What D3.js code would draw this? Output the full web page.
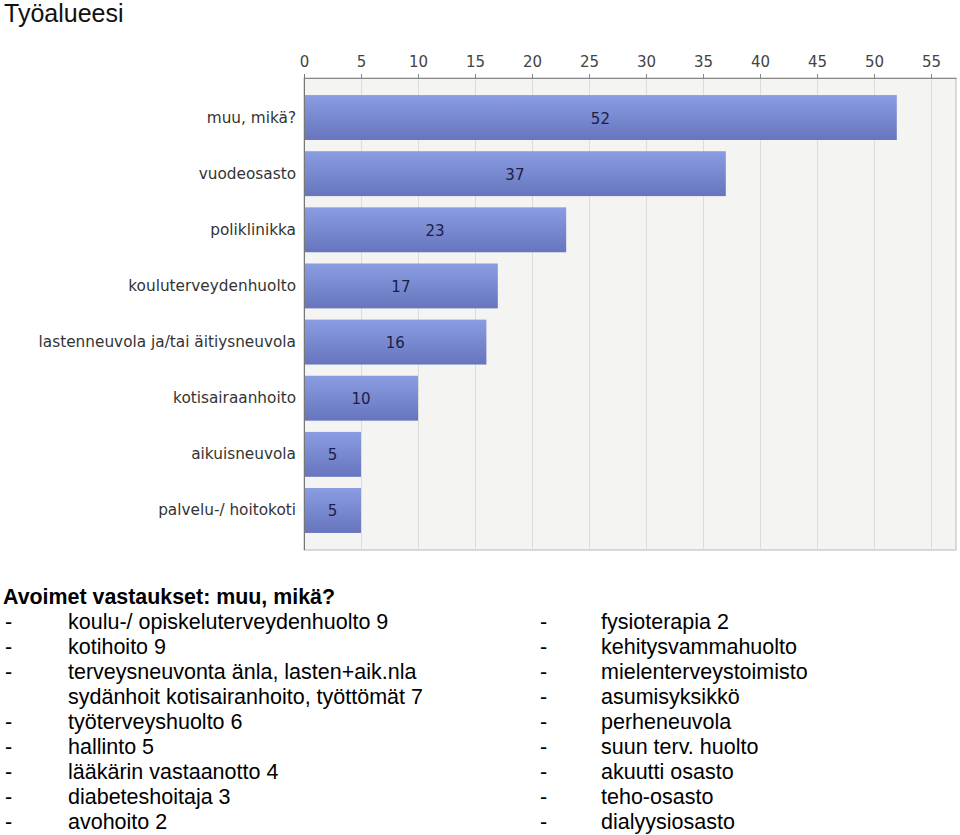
<!DOCTYPE html>
<html><head><meta charset="utf-8">
<script src="https://cdn.jsdelivr.net/npm/d3@7"></script>
<style>body{margin:0;background:#fff;} svg{display:block;}</style>
</head><body>
<script>
const categories = ["muu, mikä?","vuodeosasto","poliklinikka","kouluterveydenhuolto","lastenneuvola ja/tai äitiysneuvola","kotisairaanhoito","aikuisneuvola","palvelu-/ hoitokoti"];
const values = [52,37,23,17,16,10,5,5];
const tickValues = [0,5,10,15,20,25,30,35,40,45,50,55];
const title = "Työalueesi";
const openTitle = "Avoimet vastaukset: muu, mikä?";
const leftLines = [
  ["-","koulu-/ opiskeluterveydenhuolto 9"],
  ["-","kotihoito 9"],
  ["-","terveysneuvonta änla, lasten+aik.nla"],
  ["","sydänhoit kotisairanhoito, työttömät 7"],
  ["-","työterveyshuolto 6"],
  ["-","hallinto 5"],
  ["-","lääkärin vastaanotto 4"],
  ["-","diabeteshoitaja 3"],
  ["-","avohoito 2"]
];
const rightLines = [
  ["-","fysioterapia 2"],
  ["-","kehitysvammahuolto"],
  ["-","mielenterveystoimisto"],
  ["-","asumisyksikkö"],
  ["-","perheneuvola"],
  ["-","suun terv. huolto"],
  ["-","akuutti osasto"],
  ["-","teho-osasto"],
  ["-","dialyysiosasto"]
];

(function(){
const W = 960, H = 835;
const svg = d3.select("body").append("svg").attr("width", W).attr("height", H);
const defs = svg.append("defs");
const g1 = defs.append("linearGradient").attr("id","barGrad").attr("x1",0).attr("y1",0).attr("x2",0).attr("y2",1);
g1.append("stop").attr("offset","0%").attr("stop-color","#8b9de2");
g1.append("stop").attr("offset","100%").attr("stop-color","#6675bd");

svg.append("text").attr("x",4).attr("y",22).attr("font-family","Liberation Sans, Arial, sans-serif")
  .attr("font-size",25).attr("fill","#111").text(title);

const pL = 304, pR = 956, pT = 78, pB = 550;
const x = d3.scaleLinear().domain([0, (pR-pL)/11.4]).range([pL, pR]);
const y = d3.scaleBand().domain(categories).range([pT, pB]).paddingInner(0.2).paddingOuter(0.304);

svg.append("rect").attr("x",pL).attr("y",pT).attr("width",pR-pL).attr("height",pB-pT)
  .attr("fill","#f4f5f2").attr("stroke","#b8b8b8").attr("stroke-width",1);

// gridlines
svg.append("g").selectAll("line").data(tickValues.slice(1)).join("line")
  .attr("x1",d=>x(d)+0.5).attr("x2",d=>x(d)+0.5).attr("y1",pT).attr("y2",pB)
  .attr("stroke","#dcddd8").attr("stroke-width",1);

// bars
const bars = svg.append("g");
bars.selectAll("rect").data(values).join("rect")
  .attr("x",pL+1).attr("y",(d,i)=>y(categories[i]))
  .attr("width",d=>x(d)-pL-1).attr("height",y.bandwidth())
  .attr("fill","url(#barGrad)");
bars.selectAll("text").data(values).join("text")
  .attr("x",d=>(pL+x(d))/2).attr("y",(d,i)=>y(categories[i])+y.bandwidth()/2+6)
  .attr("text-anchor","middle").attr("font-family","DejaVu Sans, sans-serif").attr("font-size",15)
  .attr("fill","#1a2048").text(d=>d);

// category labels
svg.append("g").selectAll("text").data(categories).join("text")
  .attr("x",296).attr("y",d=>y(d)+y.bandwidth()/2+5)
  .attr("text-anchor","end").attr("font-family","DejaVu Sans, sans-serif").attr("font-size",15.3)
  .attr("fill","#333").text(d=>d);

// top axis
const axis = d3.axisTop(x).tickValues(tickValues).tickSize(4).tickSizeOuter(0);
const ag = svg.append("g").attr("transform",`translate(0,${pT})`).call(axis);
ag.select(".domain").attr("stroke","#888");
ag.selectAll(".tick line").attr("stroke","#888");
ag.selectAll(".tick text").attr("font-family","DejaVu Sans, sans-serif").attr("font-size",15)
  .attr("fill","#444").attr("dy","-0.25em");

// left axis line
svg.append("line").attr("x1",pL+0.5).attr("x2",pL+0.5).attr("y1",pT-4).attr("y2",pB)
  .attr("stroke","#777");

// open answers
const tf = "Liberation Sans, Arial, sans-serif";
svg.append("text").attr("x",3).attr("y",604).attr("font-family",tf).attr("font-size",21.4)
  .attr("font-weight","bold").attr("fill","#000").text(openTitle);
const lh = 25, y0 = 629;
const lg = svg.append("g").attr("font-family",tf).attr("font-size",21.5).attr("fill","#000");
leftLines.forEach((l,i)=>{
  lg.append("text").attr("x",5).attr("y",y0+i*lh).text(l[0]);
  lg.append("text").attr("x",68).attr("y",y0+i*lh).text(l[1]);
});
rightLines.forEach((l,i)=>{
  lg.append("text").attr("x",540).attr("y",y0+i*lh).text(l[0]);
  lg.append("text").attr("x",601).attr("y",y0+i*lh).text(l[1]);
});
})();
</script>
</body></html>
